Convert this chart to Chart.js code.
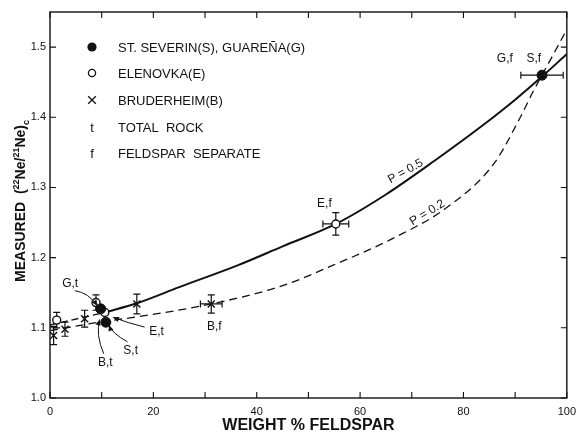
<!DOCTYPE html>
<html>
<head>
<meta charset="utf-8">
<script src="https://cdn.jsdelivr.net/npm/chart.js@4/dist/chart.umd.min.js"></script>
<style>
  html, body { margin: 0; padding: 0; background: #fff; }
  canvas { display: block; }
</style>
</head>
<body>
<canvas id="chart" width="583" height="434"></canvas>
<script>
// St. Severin (S), Guareña (G) — filled circles
const sevX    = [9.8, 10.8, 95.2];
const sevY    = [1.127, 1.108, 1.460];
const sevXErr = [0, 0, 4.1];
const sevYErr = [0, 0, 0];

// Elenovka (E) — open circles
const eleX    = [1.3, 8.9, 10.6, 55.3];
const eleY    = [1.111, 1.136, 1.122, 1.248];
const eleXErr = [0, 0, 0, 2.5];
const eleYErr = [0.011, 0.011, 0, 0.016];

// Bruderheim (B) — crosses
const brX    = [0.7, 2.9, 6.7, 16.8, 31.2];
const brY    = [1.089, 1.098, 1.113, 1.134, 1.134];
const brXErr = [0, 0, 0, 0, 2.1];
const brYErr = [0.013, 0.010, 0.012, 0.014, 0.013];

// Mixing curve P = 0.5 (solid) and its short extension towards 0 % (dashed)
const p05X = [10.6, 16.8, 25, 36.3, 45, 55.3, 65, 74.4, 84, 90, 95.2, 100];
const p05Y = [1.122, 1.135, 1.158, 1.189, 1.216, 1.248, 1.290, 1.338, 1.390, 1.425, 1.458, 1.490];
const p05ExtX = [0, 10.6];
const p05ExtY = [1.104, 1.122];

// Mixing curve P = 0.2 (dashed)
const p02X = [0, 9.5, 17.2, 31.2, 45, 54.7, 66.8, 76.9, 85.9, 91, 93.5, 95.2, 100];
const p02Y = [1.096, 1.108, 1.116, 1.134, 1.160, 1.189, 1.229, 1.272, 1.334, 1.400, 1.437, 1.460, 1.525];

// Axis ticks
const xTickValues = [0, 10, 20, 30, 40, 50, 60, 70, 80, 90, 100];
const xTickLabels = ['0', '', '20', '', '40', '', '60', '', '80', '', '100'];
const yTickValues = [1.0, 1.1, 1.2, 1.3, 1.4, 1.5];
const yTickLabels = ['1.0', '1.1', '1.2', '1.3', '1.4', '1.5'];

const pts = (xs, ys) => xs.map((x, i) => ({ x, y: ys[i] }));

const FONT = "'Liberation Sans', Arial, sans-serif";

// Point labels and their leader arrows (data coordinates)
const pointLabels = [
  { text: 'G,f', x: 88.0, y: 1.484 },
  { text: 'S,f', x: 93.6, y: 1.484 },
  { text: 'E,f', x: 53.1, y: 1.277 },
  { text: 'B,f', x: 31.8, y: 1.101 },
  { text: 'E,t', x: 20.6, y: 1.094 },
  { text: 'S,t', x: 15.6, y: 1.068 },
  { text: 'B,t', x: 10.7, y: 1.051 },
  { text: 'G,t', x: 3.9,  y: 1.163 }
];
const leaders = [
  { from: [4.8, 1.153],  via: [7.5, 1.150], to: [9.2, 1.131] },
  { from: [18.3, 1.101], via: [15.0, 1.107], to: [12.2, 1.115] },
  { from: [15.0, 1.080], via: [12.0, 1.092], to: [11.4, 1.104] },
  { from: [10.4, 1.063], via: [8.8, 1.090], to: [9.6, 1.112] }
];
const curveLabels = [
  { text: 'P = 0.5', x: 68.8, y: 1.323, angle: -29 },
  { text: 'P = 0.2', x: 73.0, y: 1.264, angle: -31 }
];

const decorations = {
  id: 'decorations',
  beforeDatasetsDraw(chart) {
    const { ctx, scales: { x: xs, y: ys } } = chart;
    ctx.save();
    ctx.strokeStyle = '#111';
    ctx.lineWidth = 1.2;
    const cap = 3.5;
    chart.data.datasets.forEach(ds => {
      if (!ds.xErr) return;
      ds.data.forEach((p, i) => {
        const px = xs.getPixelForValue(p.x), py = ys.getPixelForValue(p.y);
        const ex = ds.xErr[i], ey = ds.yErr[i];
        if (ex) {
          const a = xs.getPixelForValue(p.x - ex), b = xs.getPixelForValue(p.x + ex);
          ctx.beginPath();
          ctx.moveTo(a, py); ctx.lineTo(b, py);
          ctx.moveTo(a, py - cap); ctx.lineTo(a, py + cap);
          ctx.moveTo(b, py - cap); ctx.lineTo(b, py + cap);
          ctx.stroke();
        }
        if (ey) {
          const a = ys.getPixelForValue(p.y - ey), b = ys.getPixelForValue(p.y + ey);
          ctx.beginPath();
          ctx.moveTo(px, a); ctx.lineTo(px, b);
          ctx.moveTo(px - cap, a); ctx.lineTo(px + cap, a);
          ctx.moveTo(px - cap, b); ctx.lineTo(px + cap, b);
          ctx.stroke();
        }
      });
    });
    ctx.restore();
  },
  afterDraw(chart) {
    const { ctx, chartArea: ca, scales: { x: xs, y: ys } } = chart;
    ctx.save();
    ctx.strokeStyle = '#111';
    ctx.fillStyle = '#111';

    // frame
    ctx.lineWidth = 1.4;
    ctx.strokeRect(ca.left, ca.top, ca.right - ca.left, ca.bottom - ca.top);

    // inward ticks on all four sides
    const t = 6;
    ctx.lineWidth = 1.1;
    ctx.beginPath();
    xTickValues.forEach(v => {
      const px = xs.getPixelForValue(v);
      ctx.moveTo(px, ca.bottom); ctx.lineTo(px, ca.bottom - t);
      ctx.moveTo(px, ca.top); ctx.lineTo(px, ca.top + t);
    });
    yTickValues.forEach(v => {
      const py = ys.getPixelForValue(v);
      ctx.moveTo(ca.left, py); ctx.lineTo(ca.left + t, py);
      ctx.moveTo(ca.right, py); ctx.lineTo(ca.right - t, py);
    });
    ctx.stroke();

    // leader arrows
    ctx.lineWidth = 1;
    leaders.forEach(l => {
      const f = [xs.getPixelForValue(l.from[0]), ys.getPixelForValue(l.from[1])];
      const v = [xs.getPixelForValue(l.via[0]), ys.getPixelForValue(l.via[1])];
      const e = [xs.getPixelForValue(l.to[0]), ys.getPixelForValue(l.to[1])];
      ctx.beginPath();
      ctx.moveTo(f[0], f[1]);
      ctx.quadraticCurveTo(v[0], v[1], e[0], e[1]);
      ctx.stroke();
      const ang = Math.atan2(e[1] - v[1], e[0] - v[0]);
      const h = 6, w = 2.6;
      ctx.beginPath();
      ctx.moveTo(e[0], e[1]);
      ctx.lineTo(e[0] - h * Math.cos(ang) + w * Math.sin(ang), e[1] - h * Math.sin(ang) - w * Math.cos(ang));
      ctx.lineTo(e[0] - h * Math.cos(ang) - w * Math.sin(ang), e[1] - h * Math.sin(ang) + w * Math.cos(ang));
      ctx.closePath();
      ctx.fill();
    });

    // point labels
    ctx.font = `12px ${FONT}`;
    ctx.textAlign = 'center';
    ctx.textBaseline = 'middle';
    pointLabels.forEach(l => {
      ctx.fillText(l.text, xs.getPixelForValue(l.x), ys.getPixelForValue(l.y));
    });

    // curve labels
    curveLabels.forEach(l => {
      ctx.save();
      ctx.translate(xs.getPixelForValue(l.x), ys.getPixelForValue(l.y));
      ctx.rotate(l.angle * Math.PI / 180);
      ctx.fillText(l.text, 0, 0);
      ctx.restore();
    });

    // legend
    const lx = ca.left + 42, tx = ca.left + 68;
    const rows = [35, 61, 88, 114.5, 141];
    const legendText = ['ST. SEVERIN(S), GUAREÑA(G)', 'ELENOVKA(E)', 'BRUDERHEIM(B)', 'TOTAL  ROCK', 'FELDSPAR  SEPARATE'];
    ctx.textAlign = 'left';
    ctx.textBaseline = 'alphabetic';
    ctx.font = `13px ${FONT}`;
    rows.forEach((r, i) => {
      ctx.fillText(legendText[i], tx, ca.top + r + 5);
    });
    let cy = ca.top + rows[0];
    ctx.beginPath(); ctx.arc(lx, cy, 4.6, 0, Math.PI * 2); ctx.fill();
    cy = ca.top + rows[1];
    ctx.lineWidth = 1.3;
    ctx.beginPath(); ctx.arc(lx, cy, 3.6, 0, Math.PI * 2); ctx.stroke();
    cy = ca.top + rows[2];
    ctx.beginPath();
    ctx.moveTo(lx - 3.8, cy - 3.8); ctx.lineTo(lx + 3.8, cy + 3.8);
    ctx.moveTo(lx + 3.8, cy - 3.8); ctx.lineTo(lx - 3.8, cy + 3.8);
    ctx.stroke();
    ctx.textAlign = 'center';
    ctx.fillText('t', lx, ca.top + rows[3] + 5);
    ctx.fillText('f', lx, ca.top + rows[4] + 5);

    // x-axis title
    ctx.font = `bold 16px ${FONT}`;
    ctx.textAlign = 'center';
    ctx.fillText('WEIGHT % FELDSPAR', (ca.left + ca.right) / 2, 430);

    // y-axis title with super/subscripts
    const parts = [
      ['MEASURED  (', 0, 14], ['22', -6, 9], ['Ne/', 0, 14],
      ['21', -6, 9], ['Ne)', 0, 14], ['c', 4, 9]
    ];
    ctx.save();
    ctx.translate(20, 201);
    ctx.rotate(-Math.PI / 2);
    ctx.textAlign = 'left';
    let total = 0;
    parts.forEach(p => { ctx.font = `bold ${p[2]}px ${FONT}`; total += ctx.measureText(p[0]).width; });
    let px = -total / 2;
    parts.forEach(p => {
      ctx.font = `bold ${p[2]}px ${FONT}`;
      ctx.fillText(p[0], px, 5 + p[1]);
      px += ctx.measureText(p[0]).width;
    });
    ctx.restore();

    ctx.restore();
  }
};

new Chart(document.getElementById('chart'), {
  type: 'scatter',
  data: {
    datasets: [
      {
        label: 'St. Severin / Guareña',
        data: pts(sevX, sevY), xErr: sevXErr, yErr: sevYErr,
        pointStyle: 'circle', pointRadius: 5, backgroundColor: '#111', borderColor: '#111', borderWidth: 1
      },
      {
        label: 'Elenovka',
        data: pts(eleX, eleY), xErr: eleXErr, yErr: eleYErr,
        pointStyle: 'circle', pointRadius: 4, backgroundColor: '#fff', borderColor: '#111', borderWidth: 1.4
      },
      {
        label: 'Bruderheim',
        data: pts(brX, brY), xErr: brXErr, yErr: brYErr,
        pointStyle: 'crossRot', pointRadius: 5, borderColor: '#111', borderWidth: 1.4
      },
      {
        label: 'P = 0.5',
        data: pts(p05X, p05Y), showLine: true, pointRadius: 0,
        borderColor: '#111', borderWidth: 2, cubicInterpolationMode: 'monotone'
      },
      {
        label: 'P = 0.5 extension',
        data: pts(p05ExtX, p05ExtY), showLine: true, pointRadius: 0,
        borderColor: '#111', borderWidth: 1.3, borderDash: [7, 4]
      },
      {
        label: 'P = 0.2',
        data: pts(p02X, p02Y), showLine: true, pointRadius: 0,
        borderColor: '#111', borderWidth: 1.3, borderDash: [8, 5], cubicInterpolationMode: 'monotone'
      }
    ]
  },
  options: {
    responsive: false,
    devicePixelRatio: 1,
    animation: false,
    events: [],
    layout: { padding: { top: 12, right: 9, left: 0, bottom: 0 } },
    plugins: { legend: { display: false }, tooltip: { enabled: false } },
    scales: {
      x: {
        type: 'linear', min: 0, max: 100,
        afterBuildTicks: s => { s.ticks = xTickValues.map(v => ({ value: v })); },
        afterFit: s => { s.height = 36; },
        grid: { display: false, drawTicks: false },
        border: { display: false },
        ticks: {
          autoSkip: false, maxRotation: 0, padding: 7, color: '#111',
          font: { family: FONT, size: 11 },
          callback: (v, i) => xTickLabels[i]
        }
      },
      y: {
        type: 'linear', min: 1.0, max: 1.55,
        afterBuildTicks: s => { s.ticks = yTickValues.map(v => ({ value: v })); },
        afterFit: s => { s.width = 50; },
        grid: { display: false, drawTicks: false },
        border: { display: false },
        ticks: {
          autoSkip: false, padding: 4, color: '#111',
          font: { family: FONT, size: 11 },
          callback: (v, i) => yTickLabels[i]
        }
      }
    }
  },
  plugins: [decorations]
});
</script>
</body>
</html>
